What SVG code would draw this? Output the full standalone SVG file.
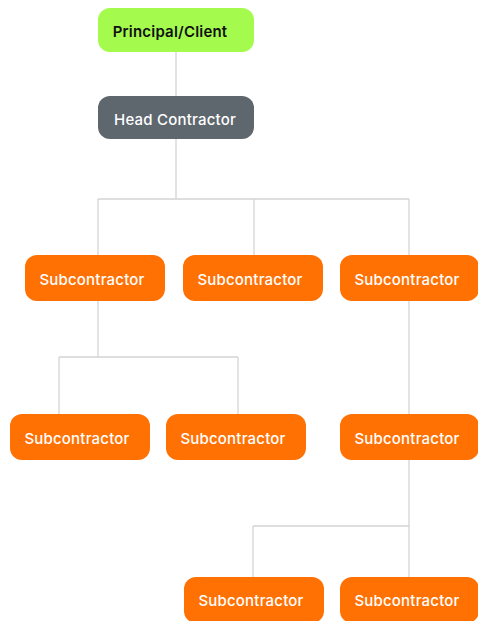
<svg xmlns="http://www.w3.org/2000/svg" width="478" height="621" viewBox="0 0 478 621">
<style>
.lines{fill:none;stroke:#d4d4d4;stroke-width:1.3}
.box{stroke:none}
.green{fill:#a4fb4e}
.grey{fill:#5e666e}
.orange{fill:#ff7103}
text{font-family:Inter,"Open Sans",sans-serif;font-size:15px;font-weight:500;text-anchor:middle;dominant-baseline:central;letter-spacing:0.2px}
.dark{fill:#111111;font-weight:600}
.light{fill:#ffffff}
</style>
<rect width="478" height="621" fill="#ffffff"/>
<g id="connectors" class="lines">
<path d="M176 52V96M176 139V199M98 199H409M98 199V255M254 199V255M409 199V255"/>
<path d="M98 301V357M59 357H238M59 357V414M238 357V414"/>
<path d="M409 301V414M409 460V577M253 526H409M253 526V577"/>
</g>
<g id="principal"><rect class="box green" x="98" y="8" width="156" height="44" rx="12"/><text class="dark" x="170" y="31">Principal/Client</text></g>
<g id="head"><rect class="box grey" x="98" y="96" width="156" height="43" rx="12"/><text class="light" x="175" y="119">Head Contractor</text></g>
<g id="sub1"><rect class="box orange" x="25" y="255" width="140" height="46" rx="12"/><text class="light" x="92" y="279">Subcontractor</text></g>
<g id="sub2"><rect class="box orange" x="183" y="255" width="140" height="46" rx="12"/><text class="light" x="250" y="279">Subcontractor</text></g>
<g id="sub3"><rect class="box orange" x="340" y="255" width="139" height="46" rx="12"/><text class="light" x="407" y="279">Subcontractor</text></g>
<g id="sub4"><rect class="box orange" x="10" y="414" width="140" height="46" rx="12"/><text class="light" x="77" y="438">Subcontractor</text></g>
<g id="sub5"><rect class="box orange" x="166" y="414" width="140" height="46" rx="12"/><text class="light" x="233" y="438">Subcontractor</text></g>
<g id="sub6"><rect class="box orange" x="340" y="414" width="139" height="46" rx="12"/><text class="light" x="407" y="438">Subcontractor</text></g>
<g id="sub7"><rect class="box orange" x="184" y="577" width="140" height="46" rx="12"/><text class="light" x="251" y="600">Subcontractor</text></g>
<g id="sub8"><rect class="box orange" x="340" y="577" width="139" height="46" rx="12"/><text class="light" x="407" y="600">Subcontractor</text></g>
</svg>
